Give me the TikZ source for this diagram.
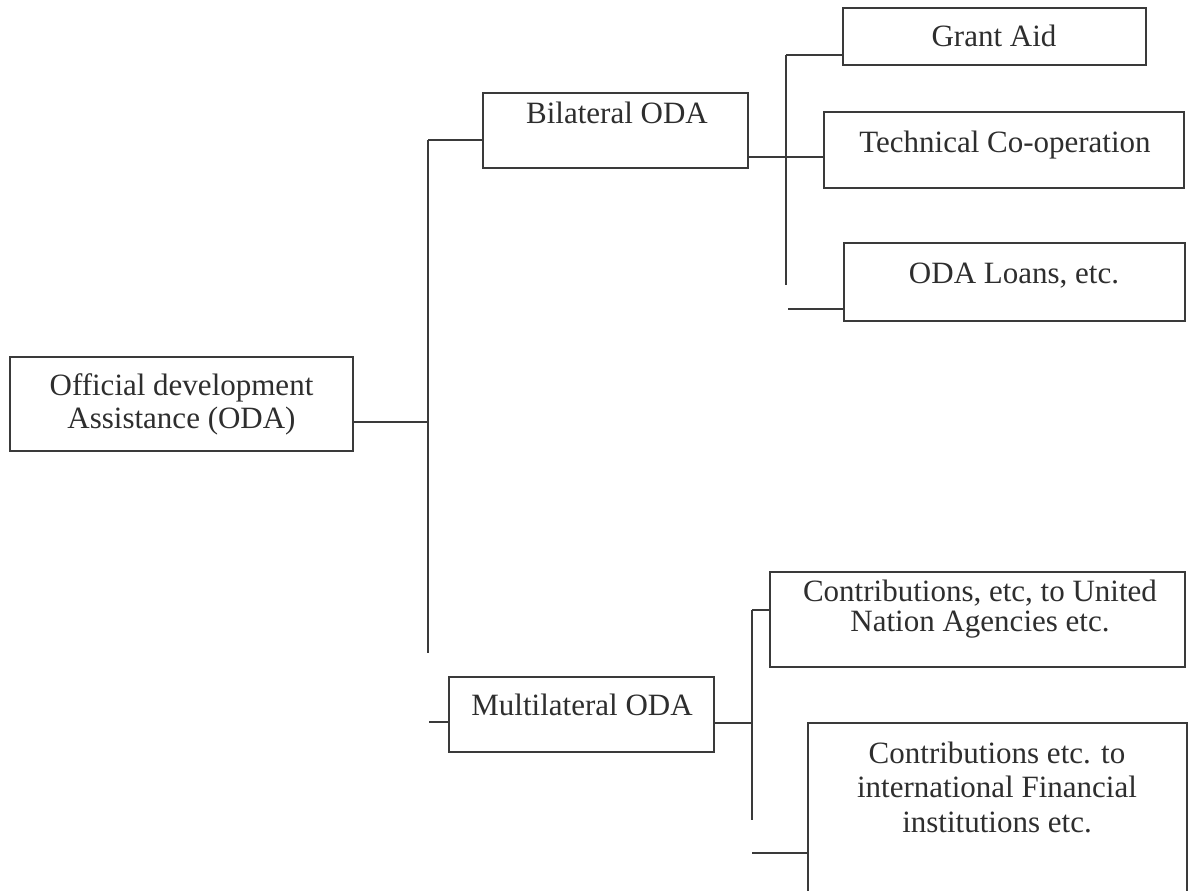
\documentclass[tikz,border=0pt]{standalone}
\usepackage{fontspec}
\setmainfont{Liberation Serif}
\definecolor{linec}{HTML}{3A3A3A}
\definecolor{textc}{HTML}{2E2E2E}
\begin{document}
\begin{tikzpicture}[x=1pt,y=-1pt,
  box/.style={draw=linec, line width=1.3pt, inner sep=0pt, rectangle},
  txt/.style={text=textc, inner sep=0pt, anchor=base, font=\fontsize{31}{27}\selectfont},
  conn/.style={draw=linec, line width=1.3pt}]
\useasboundingbox (0,0) rectangle (1191,891);
\clip (0,0) rectangle (1191,891);
\fill[white] (0,0) rectangle (1191,891);

% boxes
\node[box, minimum width=343pt, minimum height=94pt] (oda) at (181.5,404) {};
\node[box, minimum width=265pt, minimum height=75pt] (bil) at (615.5,130.5) {};
\node[box, minimum width=303pt, minimum height=57pt] (gra) at (994.5,36.5) {};
\node[box, minimum width=360pt, minimum height=76pt] (tec) at (1004,150) {};
\node[box, minimum width=341pt, minimum height=78pt] (loa) at (1014.5,282) {};
\node[box, minimum width=265pt, minimum height=75pt] (mul) at (581.5,714.5) {};
\node[box, minimum width=415pt, minimum height=95pt] (un) at (977.5,619.5) {};
\node[box, minimum width=379pt, minimum height=187pt] (ifi) at (997.5,816.5) {};

% texts
\node[txt] (t1a) at (181.5,395) {Official development};
\node[txt] (t1b) at (181.5,428) {Assistance (ODA)};
\node[txt] (bilt) at (617,123) {Bilateral ODA};
\node[txt] (grat) at (994,47) {Grant Aid};
\node[txt] (tect) at (1005,152) {Technical Co-operation};
\node[txt] (loat) at (1014,283) {ODA Loans, etc.};
\node[txt] (mult) at (582,715) {Multilateral ODA};
\node[txt] (unta) at (980,601) {Contributions, etc, to United};
\node[txt] (untb) at (980,631) {Nation Agencies etc.};
\node[txt] (ifia) at (997,763) {Contributions etc. to};
\node[txt] (ifib) at (997,797) {international Financial};
\node[txt] (ific) at (997,832) {institutions etc.};

% junction coordinates
\coordinate (j1) at (428,422);
\coordinate (vtop) at (428,140);
\coordinate (vbot) at (428,653);
\coordinate (ms) at (429,722);
\coordinate (br) at (824,157);
\coordinate (v2t) at (786,55);
\coordinate (v2b) at (786,285);
\coordinate (ls) at (788,309);
\coordinate (mr) at (752,723);
\coordinate (v3t) at (752,610);
\coordinate (v3b) at (752,820);
\coordinate (is) at (752,853);

% connectors
\draw[conn] (oda.east |- j1) -- (j1);
\draw[conn] (vtop) -- (vbot);
\draw[conn] (vtop) -- (bil.west |- vtop);
\draw[conn] (ms) -- (mul.west |- ms);
\draw[conn] (bil.east |- br) -- (tec.west |- br);
\draw[conn] (v2t) -- (v2b);
\draw[conn] (v2t) -- (gra.west |- v2t);
\draw[conn] (ls) -- (loa.west |- ls);
\draw[conn] (mul.east |- mr) -- (mr);
\draw[conn] (v3t) -- (v3b);
\draw[conn] (v3t) -- (un.west |- v3t);
\draw[conn] (is) -- (ifi.west |- is);
\end{tikzpicture}
\end{document}
